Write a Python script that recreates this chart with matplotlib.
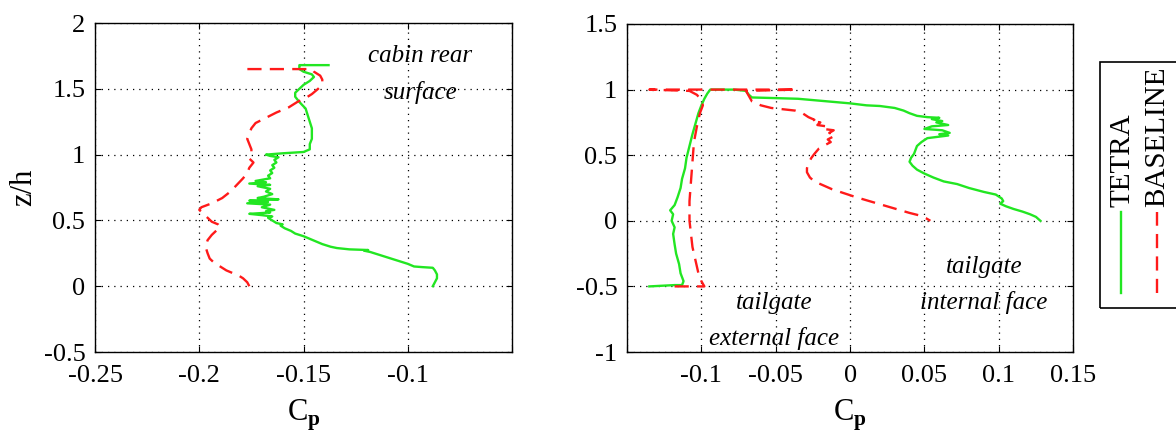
import matplotlib.pyplot as plt
from matplotlib.lines import Line2D
from matplotlib.patches import Rectangle

plt.rcParams['font.family'] = ['Liberation Serif', 'DejaVu Serif']
plt.rcParams['mathtext.fontset'] = 'custom'
plt.rcParams['mathtext.rm'] = 'Liberation Serif'
plt.rcParams['mathtext.bf'] = 'Liberation Serif:bold'

GREEN = '#22e622'
RED = '#ff1a1a'

# cabin rear surface, z/h and Cp
cab_tetra_z = [0.00, 0.03, 0.06, 0.09, 0.12, 0.14, 0.145, 0.15, 0.17, 0.19, 0.21, 0.23, 0.25, 0.26,
               0.27, 0.275, 0.28, 0.29, 0.30, 0.32, 0.34, 0.36, 0.38, 0.40, 0.42, 0.44, 0.46, 0.47,
               0.48, 0.50, 0.52, 0.53, 0.54, 0.55, 0.56, 0.57, 0.58, 0.60, 0.62, 0.63, 0.64, 0.65,
               0.66, 0.67, 0.68, 0.70, 0.72, 0.74, 0.76, 0.77, 0.78, 0.79, 0.80, 0.82, 0.84, 0.86,
               0.88, 0.90, 0.92, 0.94, 0.96, 0.98, 0.99, 1.00, 1.01, 1.02, 1.04, 1.08, 1.12, 1.16,
               1.20, 1.25, 1.30, 1.35, 1.40, 1.44, 1.47, 1.50, 1.53, 1.56, 1.59, 1.61, 1.63, 1.65,
               1.67, 1.68, 1.68]
cab_tetra_cp = [-0.088, -0.087, -0.086, -0.086, -0.087, -0.088, -0.093, -0.097, -0.100, -0.104,
                -0.108, -0.112, -0.116, -0.118, -0.121, -0.119, -0.128, -0.134, -0.137, -0.141,
                -0.144, -0.147, -0.150, -0.154, -0.156, -0.159, -0.161, -0.160, -0.163, -0.165,
                -0.167, -0.165, -0.170, -0.176, -0.166, -0.168, -0.164, -0.170, -0.166, -0.177,
                -0.167, -0.176, -0.162, -0.172, -0.169, -0.165, -0.168, -0.166, -0.172, -0.166,
                -0.176, -0.168, -0.173, -0.166, -0.167, -0.165, -0.166, -0.164, -0.165, -0.163,
                -0.164, -0.162, -0.166, -0.168, -0.160, -0.150, -0.147, -0.147, -0.146, -0.146,
                -0.146, -0.147, -0.148, -0.149, -0.152, -0.154, -0.154, -0.152, -0.150, -0.147,
                -0.145, -0.146, -0.150, -0.152, -0.152, -0.152, -0.138]

cab_base_z = [0.00, 0.03, 0.06, 0.08, 0.10, 0.12, 0.15, 0.18, 0.21, 0.25, 0.30, 0.35, 0.39, 0.42,
              0.45, 0.47, 0.49, 0.52, 0.55, 0.58, 0.60, 0.63, 0.67, 0.72, 0.77, 0.82, 0.86, 0.90,
              0.94, 0.97, 1.00, 1.04, 1.08, 1.12, 1.16, 1.20, 1.24, 1.28, 1.32, 1.36, 1.40, 1.43,
              1.46, 1.50, 1.53, 1.57, 1.60, 1.63, 1.65, 1.65]
cab_base_cp = [-0.176, -0.177, -0.179, -0.181, -0.184, -0.187, -0.190, -0.193, -0.195, -0.196,
               -0.197, -0.196, -0.194, -0.192, -0.190, -0.191, -0.194, -0.196, -0.198, -0.200,
               -0.199, -0.194, -0.189, -0.185, -0.182, -0.179, -0.177, -0.176, -0.174, -0.176,
               -0.175, -0.175, -0.176, -0.177, -0.176, -0.175, -0.173, -0.168, -0.163, -0.157,
               -0.153, -0.149, -0.146, -0.143, -0.141, -0.141, -0.142, -0.145, -0.146, -0.180]

# tailgate: external face (z/h -0.5..1) then internal face (z/h 1..0)
tail_tetra_cp = [-0.135, -0.118, -0.113, -0.112, -0.114, -0.115, -0.117, -0.118, -0.119, -0.118,
                 -0.120, -0.119, -0.121, -0.118, -0.116, -0.114, -0.113, -0.111, -0.110, -0.108,
                 -0.106, -0.104, -0.102, -0.100, -0.098, -0.096, -0.094, -0.085, -0.078, -0.070,
                 -0.068, -0.066, -0.050, -0.035, -0.020, -0.010, 0.000, 0.011, 0.020, 0.030,
                 0.036, 0.040, 0.045, 0.052, 0.060, 0.055, 0.062, 0.058, 0.066, 0.055, 0.050,
                 0.062, 0.067, 0.060, 0.066, 0.052, 0.048, 0.045, 0.044, 0.043, 0.041, 0.040,
                 0.042, 0.045, 0.050, 0.056, 0.063, 0.072, 0.080, 0.090, 0.098, 0.102, 0.103,
                 0.101, 0.105, 0.110, 0.116, 0.121, 0.125, 0.127, 0.128]
tail_tetra_z = [-0.50, -0.49, -0.49, -0.46, -0.40, -0.33, -0.25, -0.18, -0.10, -0.05, 0.00, 0.05,
                0.08, 0.12, 0.18, 0.25, 0.32, 0.40, 0.48, 0.57, 0.66, 0.74, 0.82, 0.88, 0.93,
                0.97, 1.00, 1.00, 1.00, 0.99, 0.96, 0.94, 0.935, 0.93, 0.915, 0.905, 0.895, 0.88,
                0.875, 0.86, 0.84, 0.82, 0.80, 0.79, 0.785, 0.775, 0.76, 0.75, 0.73, 0.72, 0.70,
                0.69, 0.67, 0.66, 0.65, 0.63, 0.60, 0.57, 0.54, 0.51, 0.48, 0.45, 0.42, 0.39,
                0.36, 0.33, 0.30, 0.28, 0.25, 0.22, 0.20, 0.17, 0.15, 0.13, 0.11, 0.09, 0.07,
                0.05, 0.03, 0.01, 0.00]

tail_base_cp = [-0.118, -0.098, -0.100, -0.102, -0.104, -0.106, -0.107, -0.108, -0.108, -0.107,
                -0.106, -0.105, -0.103, -0.101, -0.099, -0.100, -0.103, -0.108, -0.135, -0.036,
                -0.070, -0.068, -0.066, -0.060, -0.053, -0.045, -0.037, -0.032, -0.028, -0.024,
                -0.026, -0.020, -0.022, -0.016, -0.018, -0.011, -0.014, -0.010, -0.015, -0.013,
                -0.018, -0.021, -0.024, -0.026, -0.028, -0.029, -0.029, -0.027, -0.024, -0.018,
                -0.012, -0.004, 0.004, 0.013, 0.022, 0.031, 0.040, 0.047, 0.051, 0.054]
tail_base_z = [-0.50, -0.50, -0.46, -0.40, -0.30, -0.20, -0.10, 0.00, 0.15, 0.30, 0.45, 0.60,
               0.72, 0.82, 0.88, 0.92, 0.96, 0.99, 1.00, 1.00, 0.99, 0.95, 0.91, 0.88, 0.86,
               0.85, 0.84, 0.82, 0.79, 0.77, 0.76, 0.75, 0.73, 0.72, 0.70, 0.69, 0.67, 0.65,
               0.62, 0.60, 0.57, 0.55, 0.51, 0.48, 0.44, 0.40, 0.37, 0.33, 0.30, 0.27, 0.24,
               0.21, 0.18, 0.15, 0.12, 0.09, 0.06, 0.04, 0.02, 0.00]

left_xticks = [-0.25, -0.2, -0.15, -0.1]
left_yticks = [-0.5, 0, 0.5, 1, 1.5, 2]
right_xticks = [-0.1, -0.05, 0, 0.05, 0.1, 0.15]
right_yticks = [-1, -0.5, 0, 0.5, 1, 1.5]

fig = plt.figure(figsize=(11.76, 4.41), dpi=100)
ax1 = fig.add_axes([0.0808, 0.2018, 0.3546, 0.746])
ax2 = fig.add_axes([0.5332, 0.2018, 0.3793, 0.7438])

dash = (0, (6, 3.5))
ax1.plot(cab_tetra_cp, cab_tetra_z, color=GREEN, lw=1.7)
ax1.plot(cab_base_cp, cab_base_z, color=RED, lw=1.7, linestyle=dash)
ax2.plot(tail_tetra_cp, tail_tetra_z, color=GREEN, lw=1.7)
ax2.plot(tail_base_cp, tail_base_z, color=RED, lw=1.7, linestyle=dash)

ax1.set_xlim(-0.25, -0.05)
ax1.set_ylim(-0.5, 2)
ax1.set_xticks(left_xticks + [-0.05])
ax1.set_xticklabels([f'{v:g}' for v in left_xticks] + [''])
ax1.set_yticks(left_yticks)
ax1.set_yticklabels([f'{v:g}' for v in left_yticks])

ax2.set_xlim(-0.15, 0.15)
ax2.set_ylim(-1, 1.5)
ax2.set_xticks([-0.15] + right_xticks)
ax2.set_xticklabels([''] + [f'{v:g}' for v in right_xticks])
ax2.set_yticks(right_yticks)
ax2.set_yticklabels([f'{v:g}' for v in right_yticks])

for ax in (ax1, ax2):
    ax.grid(True, color='black', linestyle=(0, (1, 4)), lw=0.9)
    ax.tick_params(direction='in', top=True, right=True, length=4, labelsize=19)
    ax.tick_params(axis='x', pad=9)
    ax.tick_params(axis='y', pad=7)
    for s in ax.spines.values():
        s.set_linewidth(1.0)
    ax.set_xlabel(r'$\mathrm{C}_{\mathbf{p}}$', fontsize=22, labelpad=8)

ax1.set_ylabel('z/h', fontsize=22, labelpad=4)

ax1.text(0.78, 0.90, 'cabin rear', transform=ax1.transAxes, style='italic',
         fontsize=18, ha='center', va='center')
ax1.text(0.78, 0.79, 'surface', transform=ax1.transAxes, style='italic',
         fontsize=18, ha='center', va='center')
ax2.text(0.80, 0.26, 'tailgate', transform=ax2.transAxes, style='italic',
         fontsize=18, ha='center', va='center')
ax2.text(0.80, 0.15, 'internal face', transform=ax2.transAxes, style='italic',
         fontsize=18, ha='center', va='center')
ax2.text(0.33, 0.15, 'tailgate', transform=ax2.transAxes, style='italic',
         fontsize=18, ha='center', va='center')
ax2.text(0.33, 0.04, 'external face', transform=ax2.transAxes, style='italic',
         fontsize=18, ha='center', va='center')

# legend with vertical entries, box runs past the right edge
lg = fig.add_axes([0.9354, 0.3016, 0.08, 0.5578])
lg.set_xlim(0, 1)
lg.set_ylim(0, 1)
lg.axis('off')
lg.add_patch(Rectangle((0, 0), 1, 1, fill=False, edgecolor='black', lw=1.2,
                       transform=lg.transAxes, clip_on=False))
lg.add_line(Line2D([0.22, 0.22], [0.06, 0.39], color=GREEN, lw=1.7))
lg.add_line(Line2D([0.61, 0.61], [0.06, 0.39], color=RED, lw=1.7, linestyle=dash))
lg.text(0.24, 0.41, 'TETRA', rotation=90, fontsize=21, ha='center', va='bottom')
lg.text(0.61, 0.41, 'BASELINE', rotation=90, fontsize=21, ha='center', va='bottom')

fig.savefig('out.png', dpi=100)
